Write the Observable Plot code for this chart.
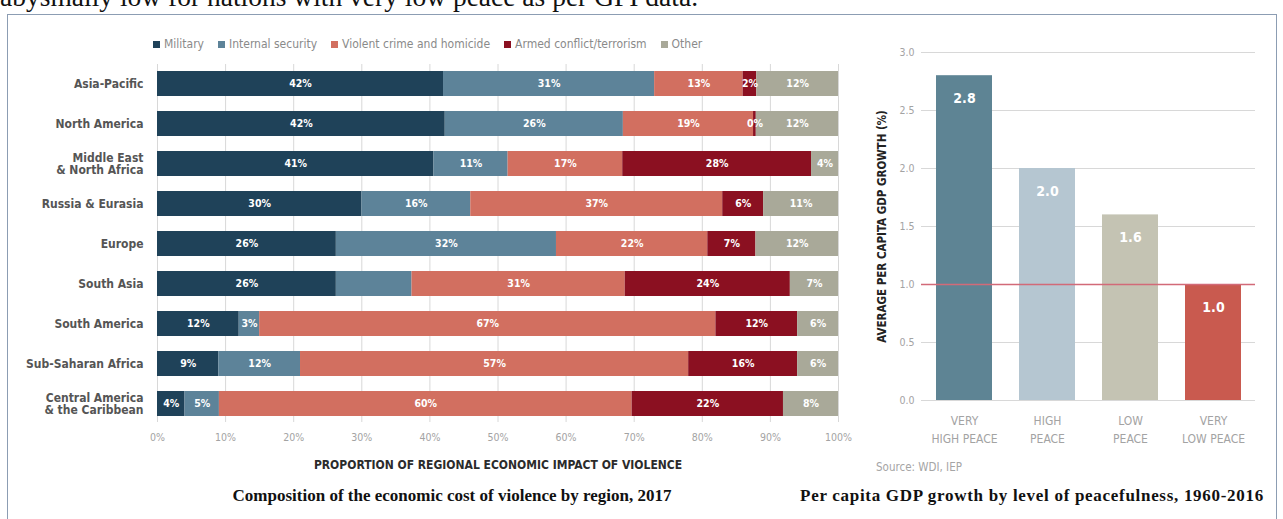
<!DOCTYPE html>
<html>
<head>
<meta charset="utf-8">
<script src="https://cdn.jsdelivr.net/npm/d3@7"></script>
<script src="https://cdn.jsdelivr.net/npm/@observablehq/plot@0.6"></script>
<style>
  html, body { margin: 0; padding: 0; background: #fff; }
  #page { position: relative; width: 1283px; height: 519px; overflow: hidden; background: #fff; }
  .abs { position: absolute; }
  #topline { left: 0; top: -19px; font-family: "Liberation Serif", "DejaVu Serif", serif; font-size: 27.5px; color: #111; white-space: nowrap; }
  #frame { left: 7px; top: 14px; width: 1270px; height: 600px; border: 1.5px solid #8c9db3; box-sizing: border-box; }
  .cond { font-family: "Liberation Sans Narrow", "DejaVu Sans Condensed", "Liberation Sans", sans-serif; }
  #legend { left: 153px; top: 37px; font-size: 12px; color: #8a8a8a; display: flex; gap: 14px; white-space: nowrap; }
  #legend span.sw { display: inline-block; width: 7px; height: 7px; margin-right: 4px; vertical-align: 0px; }
  .caption { font-family: "Liberation Serif", "DejaVu Serif", serif; font-weight: bold; font-size: 17px; color: #111; text-align: center; white-space: nowrap; }
  #source { left: 876px; top: 460px; font-size: 11.5px; color: #a5a5a5; }
  svg text { font-family: "Liberation Sans Narrow", "DejaVu Sans Condensed", "Liberation Sans", sans-serif; }
</style>
</head>
<body>
<div id="page">
  <div id="topline" class="abs">abysmally low for nations with very low peace as per GPI data.</div>
  <div id="frame" class="abs"></div>
  <div id="legend" class="abs cond"></div>
  <div id="left" class="abs" style="left:0px;top:40px;"></div>
  <div id="right" class="abs" style="left:860px;top:30px;"></div>
  <div id="source" class="abs cond">Source: WDI, IEP</div>
  <div class="abs caption" style="left:152px;top:486px;width:600px;">Composition of the economic cost of violence by region, 2017</div>
  <div class="abs caption" style="left:782px;top:486px;width:500px;letter-spacing:0.7px;">Per capita GDP growth by level of peacefulness, 1960-2016</div>
</div>
<script>
// ---------- Left chart data ----------
const regions = ["Asia-Pacific", "North America", "Middle East\n& North Africa", "Russia & Eurasia", "Europe",
  "South Asia", "South America", "Sub-Saharan Africa", "Central America\n& the Caribbean"];
const categories = ["Military", "Internal security", "Violent crime and homicide", "Armed conflict/terrorism", "Other"];
const categoryColors = ["#1f4259", "#5d8399", "#d26f60", "#8b1021", "#a9a999"];
const military = [42, 42, 41, 30, 26, 26, 12, 9, 4];
const internalSecurity = [31, 26, 11, 16, 32, 11, 3, 12, 5];
const violentCrime = [13, 19, 17, 37, 22, 31, 67, 57, 60];
const armedConflict = [2, 0.4, 28, 6, 7, 24, 12, 16, 22];
const other = [12, 12, 4, 11, 12, 7, 6, 6, 8];
const unlabeled = [["South Asia", "Internal security"]];
const xTicks = [0, 0.1, 0.2, 0.3, 0.4, 0.5, 0.6, 0.7, 0.8, 0.9, 1];

// ---------- Right chart data ----------
const peaceLevels = ["VERY\nHIGH PEACE", "HIGH\nPEACE", "LOW\nPEACE", "VERY\nLOW PEACE"];
const gdpGrowth = [2.8, 2.0, 1.6, 1.0];
const peaceColors = ["#5e8494", "#b5c6d1", "#c4c3b3", "#c95a4f"];
const yTicks = [0, 0.5, 1, 1.5, 2, 2.5, 3];
const referenceLine = [1.0];

// ---------- Legend ----------
const legend = document.getElementById("legend");
categories.forEach((c, i) => {
  const item = document.createElement("div");
  item.innerHTML = `<span class="sw" style="background:${categoryColors[i]}"></span>${c}`;
  legend.appendChild(item);
});

// ---------- Left chart ----------
const series = [military, internalSecurity, violentCrime, armedConflict, other];
const table = regions.flatMap((r, i) => categories.map((c, j) => ({region: r, category: c, value: series[j][i]})));
const isUnlabeled = d => unlabeled.some(([r, c]) => r === d.region && c === d.category);

const left = Plot.plot({
  width: 860,
  height: 442,
  marginLeft: 157,
  marginRight: 22,
  marginTop: 24,
  marginBottom: 60,
  style: {background: "transparent", overflow: "visible"},
  x: {domain: [0, 1], label: null},
  y: {domain: regions, paddingInner: 0.38, paddingOuter: 0.1, label: null},
  color: {domain: categories, range: categoryColors},
  marks: [
    Plot.gridX(xTicks, {stroke: "#d8d8d8", strokeOpacity: 1, strokeWidth: 1}),
    Plot.barX(table, Plot.stackX({offset: "normalize", x: "value", y: "region", fill: "category", z: "category"})),
    Plot.text(table, Plot.stackX({offset: "normalize", x: "value", y: "region", z: "category",
      text: d => isUnlabeled(d) ? "" : `${Math.round(d.value)}%`,
      fill: "white", fontWeight: "bold", fontSize: 10.5})),
    Plot.axisX(xTicks, {tickSize: 0, tickPadding: 11, tickFormat: d => `${Math.round(d * 100)}%`,
      fill: "#a3a3a3", fontSize: 10.5, label: null}),
    Plot.axisY({tickSize: 0, tickPadding: 14, fill: "#555555", fontWeight: "bold", fontSize: 12, label: null}),
    Plot.text(["PROPORTION OF REGIONAL ECONOMIC IMPACT OF VIOLENCE"], {frameAnchor: "bottom", dy: 46,
      fontWeight: "bold", fontSize: 12, fill: "#2b2b2b"})
  ]
});
document.getElementById("left").appendChild(left);

// ---------- Right chart ----------
const growth = peaceLevels.map((p, i) => ({level: p, value: gdpGrowth[i], color: peaceColors[i]}));
const right = Plot.plot({
  width: 423,
  height: 440,
  marginLeft: 61,
  marginRight: 28,
  marginTop: 22,
  marginBottom: 70,
  style: {background: "transparent", overflow: "visible"},
  x: {domain: peaceLevels, paddingInner: 0.33, paddingOuter: 0.16, label: null},
  y: {domain: [0, 3], label: null},
  marks: [
    Plot.gridY(yTicks, {stroke: "#d8d8d8", strokeOpacity: 1, strokeWidth: 1.2}),
    Plot.barY(growth, {x: "level", y: "value", fill: "color"}),
    Plot.text(growth, {x: "level", y: "value", text: d => d.value.toFixed(1), dy: 23,
      fill: "white", fontWeight: "bold", fontSize: 14}),
    Plot.ruleY(referenceLine, {stroke: "#d26a78", strokeWidth: 1.5}),
    Plot.axisY(yTicks, {tickSize: 0, tickPadding: 7, tickFormat: d => d.toFixed(1), fill: "#a3a3a3", fontSize: 10.5, label: null}),
    Plot.axisX({tickSize: 0, tickPadding: 12, fill: "#a3a3a3", fontSize: 12, lineHeight: 1.5, label: null}),
    Plot.text(["AVERAGE PER CAPITA GDP GROWTH (%)"], {frameAnchor: "left", rotate: -90, dx: -39, dy: 0, textAnchor: "middle",
      fontWeight: "bold", fontSize: 11.5, fill: "#222222", fontFamily: "DejaVu Sans", letterSpacing: 1.2})
  ]
});
document.getElementById("right").appendChild(right);
</script>
</body>
</html>
